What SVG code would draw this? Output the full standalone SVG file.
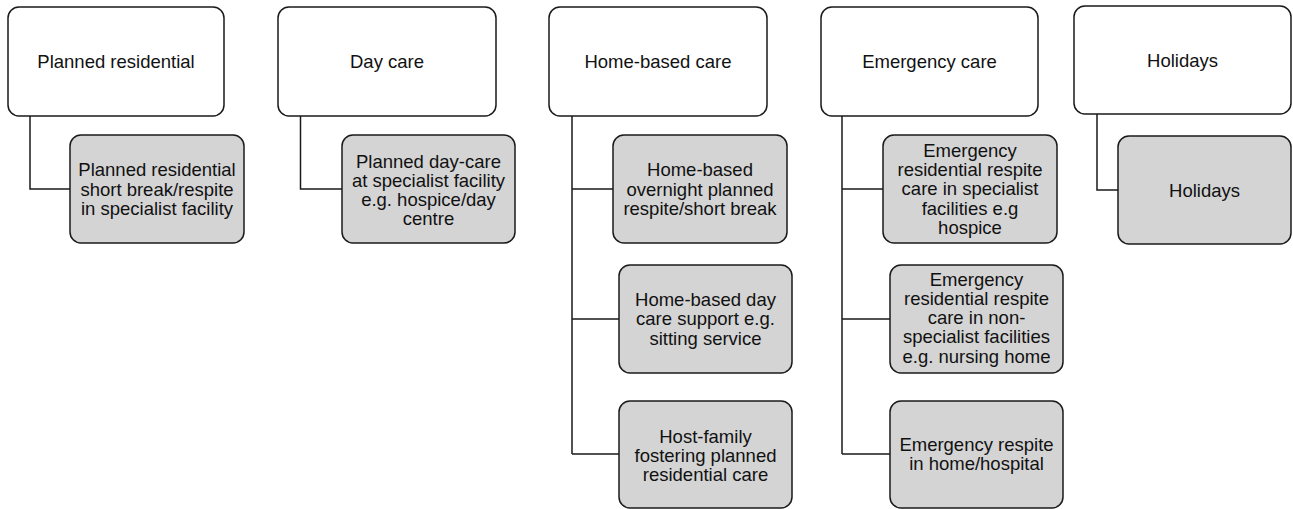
<svg xmlns="http://www.w3.org/2000/svg" width="1293" height="509" viewBox="0 0 1293 509">
<style>
.p{fill:#fff;stroke:#1a1a1a;stroke-width:1.5}
.c{fill:#d4d4d4;stroke:#1a1a1a;stroke-width:1.5}
.k{fill:none;stroke:#1a1a1a;stroke-width:1.5}
text{font-family:"Liberation Sans",Arial,sans-serif;font-size:18.5px;fill:#111;text-anchor:middle}
</style>
<rect width="1293" height="509" fill="#fff"/>
<g id="connectors">
<path class="k" d="M30,116 V189 H70"/>
<path class="k" d="M300.5,116 V189 H342"/>
<path class="k" d="M572,116 V454 M572,189 H613 M572,319 H619 M572,454 H619"/>
<path class="k" d="M842,116 V454 M842,189 H883 M842,319 H890 M842,454 H890"/>
<path class="k" d="M1097,114 V190 H1118"/>
</g>
<g id="p1"><rect class="p" x="8" y="7" width="216" height="109" rx="11"/><text x="116" y="68">Planned residential</text></g>
<g id="p2"><rect class="p" x="278" y="7" width="218" height="109" rx="11"/><text x="387" y="68">Day care</text></g>
<g id="p3"><rect class="p" x="549" y="7" width="218" height="109" rx="11"/><text x="658" y="68">Home-based care</text></g>
<g id="p4"><rect class="p" x="821" y="7" width="217" height="109" rx="11"/><text x="929.5" y="68">Emergency care</text></g>
<g id="p5"><rect class="p" x="1074" y="6" width="217" height="108" rx="11"/><text x="1182.5" y="67">Holidays</text></g>
<g id="c1"><rect class="c" x="70" y="135" width="174" height="108" rx="11"/><text x="157"><tspan x="157" y="176.4">Planned residential</tspan><tspan x="157" y="195.6">short break/respite</tspan><tspan x="157" y="214.8">in specialist facility</tspan></text></g>
<g id="c2"><rect class="c" x="342" y="135" width="173" height="108" rx="11"/><text x="428.5"><tspan x="428.5" y="167.5">Planned day-care</tspan><tspan x="428.5" y="186.7">at specialist facility</tspan><tspan x="428.5" y="205.9">e.g. hospice/day</tspan><tspan x="428.5" y="225.1">centre</tspan></text></g>
<g id="c3a"><rect class="c" x="613" y="135" width="174" height="108" rx="11"/><text x="700"><tspan x="700" y="176.4">Home-based</tspan><tspan x="700" y="195.6">overnight planned</tspan><tspan x="700" y="214.8">respite/short break</tspan></text></g>
<g id="c3b"><rect class="c" x="619" y="265" width="173" height="108" rx="11"/><text x="705.5"><tspan x="705.5" y="306.2">Home-based day</tspan><tspan x="705.5" y="325.4">care support e.g.</tspan><tspan x="705.5" y="344.6">sitting service</tspan></text></g>
<g id="c3c"><rect class="c" x="619" y="401" width="173" height="107" rx="11"/><text x="705.5"><tspan x="705.5" y="442.5">Host-family</tspan><tspan x="705.5" y="461.7">fostering planned</tspan><tspan x="705.5" y="480.9">residential care</tspan></text></g>
<g id="c4a"><rect class="c" x="883" y="135" width="174" height="108" rx="11"/><text x="970"><tspan x="970" y="157">Emergency</tspan><tspan x="970" y="176.2">residential respite</tspan><tspan x="970" y="195.4">care in specialist</tspan><tspan x="970" y="214.6">facilities e.g</tspan><tspan x="970" y="233.8">hospice</tspan></text></g>
<g id="c4b"><rect class="c" x="890" y="265" width="173" height="108" rx="11"/><text x="976.5"><tspan x="976.5" y="285.7">Emergency</tspan><tspan x="976.5" y="304.9">residential respite</tspan><tspan x="976.5" y="324.1">care in non-</tspan><tspan x="976.5" y="343.3">specialist facilities</tspan><tspan x="976.5" y="362.5">e.g. nursing home</tspan></text></g>
<g id="c4c"><rect class="c" x="890" y="401" width="173" height="107" rx="11"/><text x="976.5"><tspan x="976.5" y="451">Emergency respite</tspan><tspan x="976.5" y="470.2">in home/hospital</tspan></text></g>
<g id="c5"><rect class="c" x="1118" y="136" width="173" height="108" rx="11"/><text x="1204.5" y="196.6">Holidays</text></g>
</svg>
